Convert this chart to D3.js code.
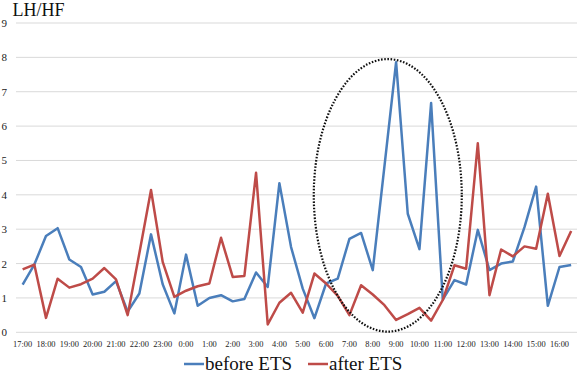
<!DOCTYPE html>
<html>
<head>
<meta charset="utf-8">
<script src="https://cdn.jsdelivr.net/npm/d3@7"></script>
<style>
  html, body { margin: 0; padding: 0; background: #fff; }
  svg { display: block; }
</style>
</head>
<body>
<svg id="chart" width="578" height="374"></svg>
<script>
const categories = [
  "17:00","17:30","18:00","18:30","19:00","19:30","20:00","20:30",
  "21:00","21:30","22:00","22:30","23:00","23:30","0:00","0:30",
  "1:00","1:30","2:00","2:30","3:00","3:30","4:00","4:30",
  "5:00","5:30","6:00","6:30","7:00","7:30","8:00","8:30",
  "9:00","9:30","10:00","10:30","11:00","11:30","12:00","12:30",
  "13:00","13:30","14:00","14:30","15:00","15:30","16:00","16:30"
];
const tickLabels = ["17:00","18:00","19:00","20:00","21:00","22:00","23:00","0:00",
  "1:00","2:00","3:00","4:00","5:00","6:00","7:00","8:00","9:00","10:00","11:00",
  "12:00","13:00","14:00","15:00","16:00"];
const yTicks = [0,1,2,3,4,5,6,7,8,9];
const seriesNames = ["before ETS", "after ETS"];
const beforeETS = [
  1.39, 1.97, 2.80, 3.03, 2.12, 1.90, 1.10, 1.18,
  1.49, 0.60, 1.13, 2.85, 1.40, 0.55, 2.26, 0.77,
  1.00, 1.08, 0.90, 0.97, 1.74, 1.32, 4.34, 2.48,
  1.27, 0.41, 1.42, 1.56, 2.72, 2.89, 1.81, 4.83,
  7.86, 3.45, 2.42, 6.67, 0.95, 1.52, 1.39, 2.98,
  1.81, 2.00, 2.06, 3.06, 4.24, 0.77, 1.90, 1.96
];
const afterETS = [
  1.83, 1.97, 0.42, 1.56, 1.30, 1.40, 1.56, 1.87,
  1.54, 0.50, 2.30, 4.14, 2.05, 1.03, 1.21, 1.34,
  1.42, 2.75, 1.61, 1.64, 4.64, 0.23, 0.86, 1.15,
  0.57, 1.71, 1.42, 1.06, 0.50, 1.37, 1.10, 0.79,
  0.36, 0.53, 0.71, 0.34, 0.94, 1.95, 1.85, 5.50,
  1.08, 2.41, 2.21, 2.50, 2.43, 4.03, 2.22, 2.95
];
const colors = ["#4a7ebb", "#be4b48"];

(function () {
const FONT = "Liberation Serif";
const svg = d3.select("#chart");
const plotLeft = 16.8, plotRight = 577, plotTop = 23, plotBottom = 332.3;

const x = d3.scaleBand().domain(categories).range([plotLeft, plotRight]).padding(0);
const cx = c => x(c) + x.bandwidth() / 2;
const y = d3.scaleLinear().domain([0, 9]).range([plotBottom, plotTop]);

// gridlines
svg.append("g").selectAll("line").data(yTicks).join("line")
  .attr("x1", 16).attr("x2", plotRight)
  .attr("y1", d => y(d)).attr("y2", d => y(d))
  .attr("stroke", "#d9d9d9").attr("stroke-width", 1);

// y labels
svg.append("g").selectAll("text").data(yTicks).join("text")
  .attr("x", 7).attr("y", d => y(d) + 4)
  .attr("text-anchor", "end")
  .attr("font-family", FONT)
  .attr("fill", "#222")
  .attr("font-size", 11)
  .text(d => d);

// x tick labels
svg.append("g").selectAll("text").data(tickLabels).join("text")
  .attr("x", d => cx(d)).attr("y", 346.5)
  .attr("text-anchor", "middle")
  .attr("font-family", FONT)
  .attr("fill", "#222")
  .attr("font-size", 8.4)
  .text(d => d);

// title
svg.append("text").attr("x", 12.5).attr("y", 15.5)
  .attr("font-family", FONT).attr("fill", "#111")
  .attr("font-size", 18).text("LH/HF");

// lines
const line = d3.line().x((d, i) => cx(categories[i])).y(d => y(d));
[beforeETS, afterETS].forEach((s, k) => {
  svg.append("path").datum(s)
    .attr("fill", "none")
    .attr("stroke", colors[k])
    .attr("stroke-width", 2.5)
    .attr("stroke-linejoin", "round")
    .attr("d", line);
});

// dotted ellipse annotation
const ellCx = (cx("8:30") + cx("9:00")) / 2 - 2.5;
const ellTop = y(7.95), ellBot = y(0.02);
svg.append("ellipse")
  .attr("cx", ellCx).attr("cy", (ellTop + ellBot) / 2)
  .attr("rx", 74).attr("ry", (ellBot - ellTop) / 2)
  .attr("fill", "none").attr("stroke", "#111")
  .attr("stroke-width", 2.2).attr("stroke-dasharray", "1.6 1.6");

// legend
const legend = svg.append("g");
const legendItems = [
  { name: seriesNames[0], color: colors[0], x0: 184 },
  { name: seriesNames[1], color: colors[1], x0: 308 }
];
legendItems.forEach(it => {
  legend.append("line")
    .attr("x1", it.x0).attr("x2", it.x0 + 20)
    .attr("y1", 364).attr("y2", 364)
    .attr("stroke", it.color).attr("stroke-width", 2.5);
  legend.append("text")
    .attr("x", it.x0 + 21).attr("y", 370)
    .attr("font-family", FONT).attr("fill", "#111")
    .attr("font-size", 19)
    .text(it.name);
});
})();
</script>
</body>
</html>
